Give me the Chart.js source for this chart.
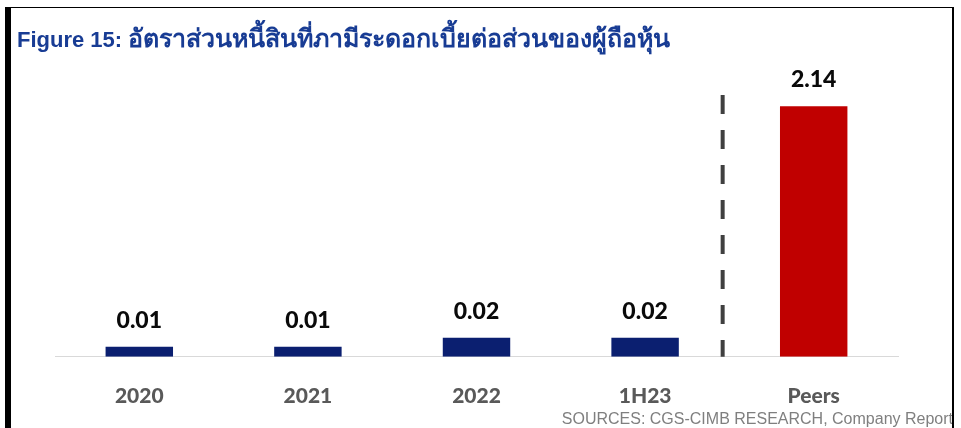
<!DOCTYPE html>
<html>
<head>
<meta charset="utf-8">
<script src="https://cdn.jsdelivr.net/npm/chart.js@4/dist/chart.umd.min.js"></script>
<style>
  html, body { margin: 0; padding: 0; background: #fff; }
  #wrap { position: relative; width: 961px; height: 428px; overflow: hidden; }
  #chart { position: absolute; left: 0; top: 0; }
  .title {
    position: absolute; left: 17px; top: 18px;
    font: bold 22px "Liberation Sans", Arial, sans-serif;
    color: #183c94; white-space: nowrap;
  }
  .title .th { font-size: 25px; }
  .source {
    position: absolute; right: 8px; top: 410px;
    font: 16px "Liberation Sans", Arial, sans-serif;
    color: #7f7f7f; white-space: nowrap;
  }
  .frame-left { position: absolute; left: 5px; top: 7px; width: 6px; height: 421px; background: #000; }
  .frame-top { position: absolute; left: 5px; top: 7px; width: 949px; height: 1px; background: #000; }
  .frame-right { position: absolute; left: 952px; top: 7px; width: 2px; height: 421px; background: #000; }
</style>
</head>
<body>
<div id="wrap">
  <canvas id="chart" width="961" height="428"></canvas>
  <div class="title">Figure 15: <span class="th">อัตราส่วนหนี้สินที่ภามีระดอกเบี้ยต่อส่วนของผู้ถือหุ้น</span></div>
  <div class="source">SOURCES: CGS-CIMB RESEARCH, Company Report</div>
  <div class="frame-left"></div>
  <div class="frame-top"></div>
  <div class="frame-right"></div>
</div>
<script>
const categories = ["2020", "2021", "2022", "1H23", "Peers"];
const values = [0.01, 0.01, 0.02, 0.02, 2.14];
const barColors = ["#0b1f70", "#0b1f70", "#0b1f70", "#0b1f70", "#c00000"];

// the source chart uses a broken axis: tiny values get a magnified stub
const STUB_PX_PER_UNIT = 950;

const datasets = values.map((v, i) => ({
  label: categories[i],
  data: categories.map((c, j) => (j === i ? v : null)),
  backgroundColor: barColors[i],
  minBarLength: v < 0.1 ? Math.round(v * STUB_PX_PER_UNIT) : 0,
  barPercentage: 0.4,
  categoryPercentage: 1
}));

const valueLabels = {
  id: "valueLabels",
  afterDatasetsDraw(chart) {
    const ctx = chart.ctx;
    ctx.save();
    ctx.font = "900 23px Lato, 'Open Sans', sans-serif";
    ctx.fillStyle = "#0a0a0a";
    ctx.textAlign = "center";
    ctx.textBaseline = "alphabetic";
    chart.data.datasets.forEach((ds, i) => {
      const bar = chart.getDatasetMeta(i).data[i];
      ctx.fillText(values[i].toFixed(2), bar.x, bar.y - 19);
    });
    ctx.restore();
  }
};

const separator = {
  id: "separator",
  afterDatasetsDraw(chart) {
    const ctx = chart.ctx;
    const x = chart.scales.x.getPixelForValue(3.46);
    const bottom = chart.chartArea.bottom;
    ctx.save();
    ctx.strokeStyle = "#404040";
    ctx.lineWidth = 4;
    ctx.setLineDash([19, 16]);
    ctx.beginPath();
    ctx.moveTo(x, 95);
    ctx.lineTo(x, bottom);
    ctx.stroke();
    ctx.restore();
  }
};

new Chart(document.getElementById("chart"), {
  type: "bar",
  data: { labels: categories, datasets: datasets },
  options: {
    responsive: false,
    animation: false,
    layout: { padding: { left: 55, right: 63, top: 64, bottom: -8 } },
    datasets: { bar: { grouped: false } },
    scales: {
      x: {
        grid: { display: false, drawTicks: false },
        border: { display: true, color: "#d9d9d9", width: 1 },
        ticks: {
          padding: 27,
          color: "#595959",
          font: { family: "Lato, 'Open Sans', sans-serif", size: 21, weight: "900" }
        }
      },
      y: { display: false, min: 0, max: 2.5 }
    },
    plugins: {
      legend: { display: false },
      tooltip: { enabled: false }
    }
  },
  plugins: [valueLabels, separator]
});
</script>
</body>
</html>
